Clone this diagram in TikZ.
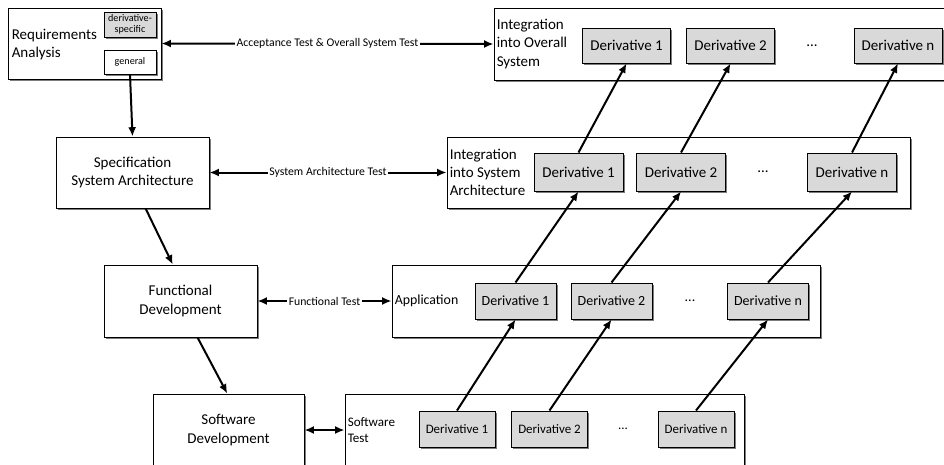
\documentclass[tikz,border=0pt]{standalone}
\usepackage{fontspec}
\setmainfont{Carlito}
\usetikzlibrary{arrows.meta,shadows,calc}
\tikzset{every picture/.style={/utils/exec={\fontsize{11.25}{13.7}\selectfont}}}
\tikzstyle{line}=[line width=1.5pt]
\tikzstyle{arrow}=[line,-{Latex[length=7pt,width=6pt]}]
\tikzstyle{biarrow}=[line,{Latex[length=7pt,width=6pt]}-{Latex[length=7pt,width=6pt]}]
\tikzstyle{box}=[draw, line width=0.75pt, fill=white, inner sep=0pt,
  drop shadow={shadow xshift=1.3pt, shadow yshift=-1.3pt, opacity=0.85, fill=black!60}]
\tikzstyle{derbox}=[box, fill=black!15]
\tikzstyle{boxtext}=[align=left, anchor=west, inner sep=0pt]
\tikzstyle{testlabel}=[fill=white, inner sep=1pt, font=\fontsize{8.8}{10}\selectfont]

\begin{document}
\begin{tikzpicture}[x=0.75pt, y=-0.75pt]
    \useasboundingbox (0,0) rectangle (944,464);
    \clip (0,0) rectangle (944,464);
    % development side
    \node[box, minimum width=153*0.75pt, minimum height=71*0.75pt] (Req) at (84.5,43.5) {};
    \node[boxtext] (Req-T) at ($(Req.west)+(4,1)$) {Requirements\\Analysis};
    \node[derbox, minimum width=52*0.75pt, minimum height=25*0.75pt, align=center,
      font=\fontsize{7.6}{8.6}\selectfont] (Spc) at (130,24.5) {derivative-\\specific};
    \node[box, minimum width=52*0.75pt, minimum height=24*0.75pt,
      font=\fontsize{7.6}{8.6}\selectfont] (Gen) at (130,62) {general};
    \node[box, minimum width=153*0.75pt, minimum height=71*0.75pt, align=center] (Spec) at (132.5,172.5) {Specification\\System Architecture};
    \node[box, minimum width=153*0.75pt, minimum height=72*0.75pt, align=center] (Func) at (180.5,301) {Functional\\Development};
    \node[box, minimum width=151*0.75pt, minimum height=72*0.75pt, align=center] (SwDev) at (228.5,430) {Software\\Development};
    % test side
    \node[box, minimum width=460*0.75pt, minimum height=72*0.75pt] (Int1) at (724,44) {};
    \node[boxtext] (Int1-T) at ($(Int1.west)+(3,0)$) {Integration\\into Overall\\System};
    \node[box, minimum width=463*0.75pt, minimum height=71*0.75pt] (Int2) at (678.5,172.5) {};
    \node[boxtext] (Int2-T) at ($(Int2.west)+(3,0)$) {Integration\\into System\\Architecture};
    \node[box, minimum width=428*0.75pt, minimum height=72*0.75pt] (Int3) at (606,301) {};
    \node[boxtext, font=\fontsize{10.4}{12.6}\selectfont] (Int3-T) at ($(Int3.west)+(3,0)$) {Application};
    \node[box, minimum width=399*0.75pt, minimum height=72*0.75pt] (Int4) at (544.5,430) {};
    \node[boxtext, font=\fontsize{9.8}{12}\selectfont] (Int4-T) at ($(Int4.west)+(3,0)$) {Software\\Test};
    \foreach \r/\y/\w/\h/\fs/\xa/\xb/\xd/\xn in {1/45.5/88/35/11.25/626.5/730.5/812/898,
        2/172/89/38/11.25/578.5/681/763/852,
        3/301/81/36/10.5/515.5/611.5/690/768,
        4/429/76/36/9.7/457/549.5/623/696} {
      \begin{scope}[every node/.append style={font=\fontsize{\fs}{\fs}\selectfont}]
        \node[derbox, minimum width=\w*0.75pt, minimum height=\h*0.75pt] (Der\r-1) at (\xa,\y) {Derivative 1};
        \node[derbox, minimum width=\w*0.75pt, minimum height=\h*0.75pt] (Der\r-2) at (\xb,\y) {Derivative 2};
        \node (Dots\r) at (\xd,\y) {...};
        \node[derbox, minimum width=\w*0.75pt, minimum height=\h*0.75pt] (Der\r-n) at (\xn,\y) {Derivative n};
      \end{scope}
    }
    % down the V
    \draw[arrow] (Gen.south) -- (Spec.north);
    \draw[arrow] (Spec.-70) -- (Func.102);
    \draw[arrow] (Func.-65) -- (SwDev.92);
    % up the V
    \foreach \i in {1,2,n} {
      \draw[arrow] (Der4-\i.north) -- (Der3-\i.south);
      \draw[arrow] (Der3-\i.north) -- (Der2-\i.south);
      \draw[arrow] (Der2-\i.north) -- (Der1-\i.south);
    }
    % tests
    \draw[biarrow] (Req.east) -- node[testlabel] {Acceptance Test \& Overall System Test} (Int1.west);
    \draw[biarrow] (Spec.east) -- node[testlabel] {System Architecture Test} (Int2.west);
    \draw[biarrow] (Func.east) -- node[testlabel] {Functional Test} (Int3.west);
    \draw[biarrow] (SwDev.east) -- (Int4.west);
  \end{tikzpicture}
\end{document}
